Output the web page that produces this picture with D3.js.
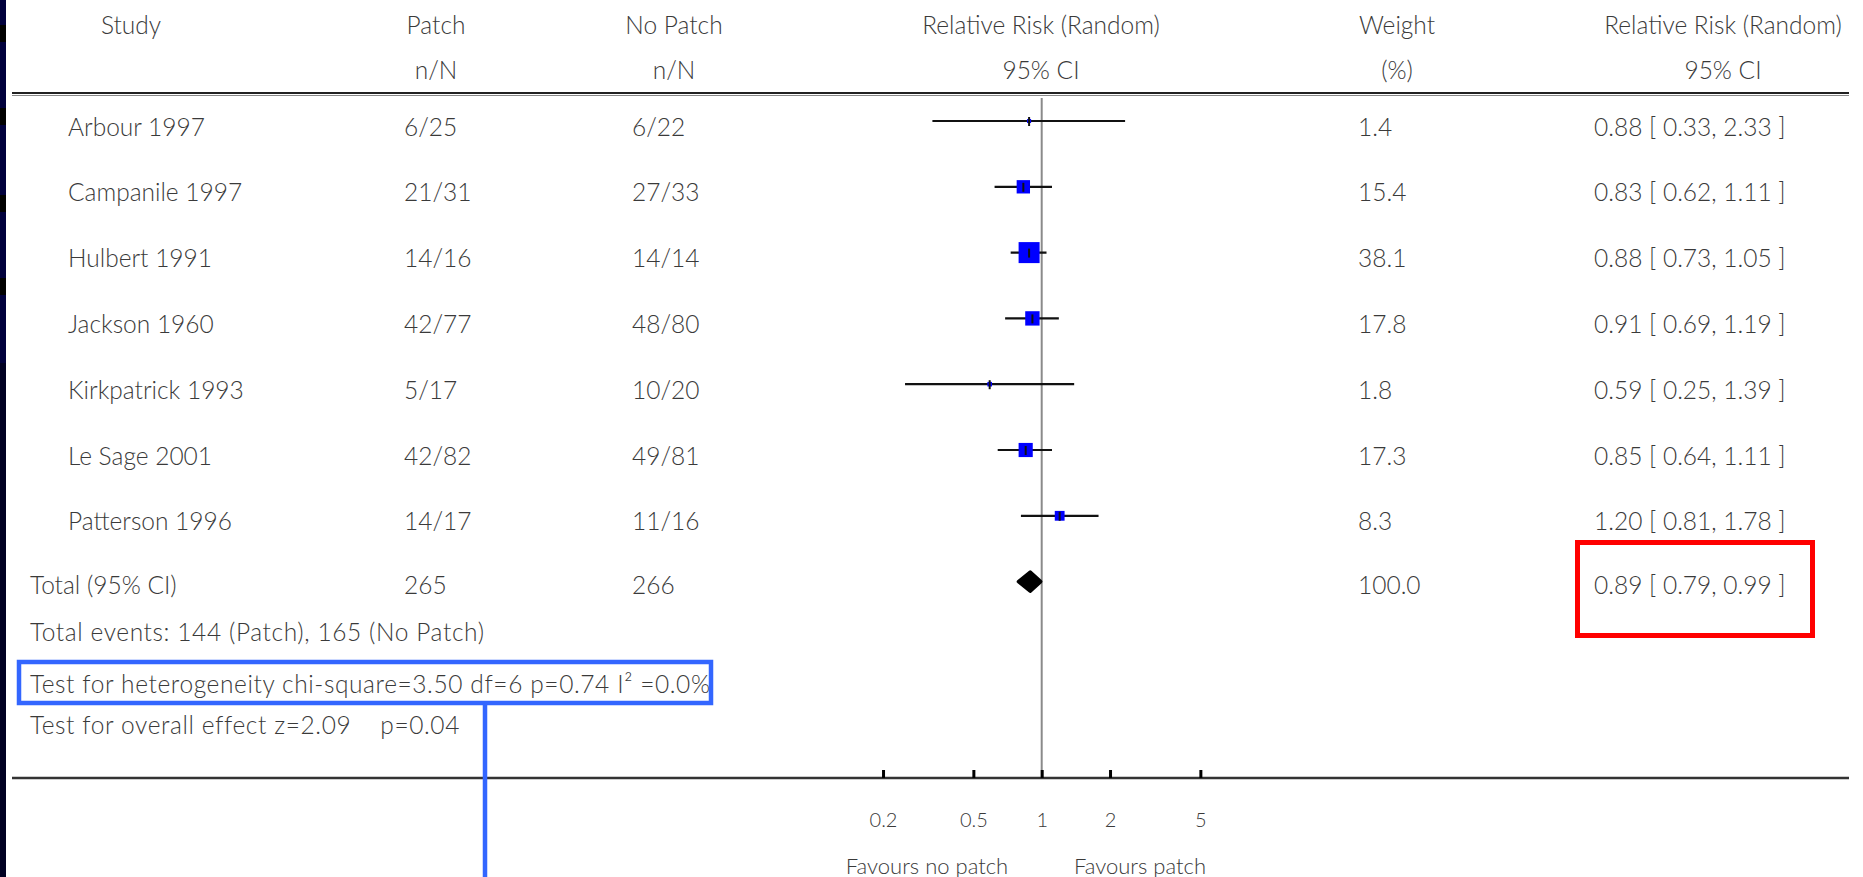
<!DOCTYPE html>
<html>
<head>
<meta charset="utf-8">
<script src="https://cdn.jsdelivr.net/npm/d3@7"></script>
<style>
  html, body { margin: 0; padding: 0; background: #ffffff; }
  svg { display: block; }
  text { font-family: "Lato", "Open Sans", sans-serif; font-weight: 300; fill: #3a3a3a; white-space: pre; }
</style>
</head>
<body>
<svg id="chart" width="1863" height="877"></svg>
<script>
// ---------------- data ----------------
const headers1 = ["Study", "Patch", "No Patch", "Relative Risk (Random)", "Weight", "Relative Risk (Random)"];
const headers2 = ["", "n/N", "n/N", "95% CI", "(%)", "95% CI"];
const studies = ["Arbour 1997", "Campanile 1997", "Hulbert 1991", "Jackson 1960", "Kirkpatrick 1993", "Le Sage 2001", "Patterson 1996"];
const patch = ["6/25", "21/31", "14/16", "42/77", "5/17", "42/82", "14/17"];
const noPatch = ["6/22", "27/33", "14/14", "48/80", "10/20", "49/81", "11/16"];
const rr = [0.88, 0.83, 0.88, 0.91, 0.59, 0.85, 1.20];
const lo = [0.33, 0.62, 0.73, 0.69, 0.25, 0.64, 0.81];
const hi = [2.33, 1.11, 1.05, 1.19, 1.39, 1.11, 1.78];
const weight = [1.4, 15.4, 38.1, 17.8, 1.8, 17.3, 8.3];
const totalLabel = "Total (95% CI)";
const totalPatch = "265";
const totalNoPatch = "266";
const totalWeight = 100.0;
const totalRR = [0.89, 0.79, 0.99]; // estimate, lower, upper
const footnotes = [
  "Total events: 144 (Patch), 165 (No Patch)",
  "Test for heterogeneity chi-square=3.50 df=6 p=0.74 I² =0.0%",
  "Test for overall effect z=2.09    p=0.04"
];
const tickValues = [0.2, 0.5, 1, 2, 5];
const tickLabels = ["0.2", "0.5", "1", "2", "5"];
const favours = ["Favours no patch", "Favours patch"];

// ---------------- layout ----------------
const svg = d3.select("#chart");
const W = 1863, H = 877;
const FS = 24.5;

svg.append("rect").attr("width", W).attr("height", H).attr("fill", "#ffffff");

// left dark strip
svg.append("rect").attr("x", 0).attr("y", 0).attr("width", 6).attr("height", H).attr("fill", "#00003c");
svg.append("rect").attr("x", 0).attr("y", 363).attr("width", 6).attr("height", H - 363).attr("fill", "#000022");
[[25, 17], [108, 17], [195, 17], [278, 17]].forEach(([y, h]) =>
  svg.append("rect").attr("x", 0).attr("y", y).attr("width", 6).attr("height", h).attr("fill", "#000000"));

// scales
const x = d3.scaleLog().domain([0.1, 10]).range([1041.7 - 227, 1041.7 + 227]);
const rowY = d3.scaleLinear().domain([0, 7]).range([121, 581.6]);
const sq = d3.scaleSqrt().domain([0, d3.max(weight)]).range([0, 21]);
const f2 = d3.format(".2f"), f1 = d3.format(".1f");

function txt(xp, yp, t, opts = {}) {
  return svg.append("text").attr("x", xp).attr("y", yp)
    .attr("text-anchor", opts.anchor || "start").attr("dominant-baseline", "central")
    .attr("font-size", opts.size || FS).attr("letter-spacing", opts.ls || 0).text(t);
}

// header
const headerCenters = [131, 436, 674, 1041, 1397, 1723];
headers1.forEach((t, i) => txt(headerCenters[i], 24, t, { anchor: "middle" }));
headers2.forEach((t, i) => txt(headerCenters[i], 69, t, { anchor: "middle" }));

// top rule
svg.append("line").attr("x1", 12).attr("x2", 1849).attr("y1", 93).attr("y2", 93).attr("stroke", "#222").attr("stroke-width", 2);
svg.append("line").attr("x1", 12).attr("x2", 1849).attr("y1", 95.5).attr("y2", 95.5).attr("stroke", "#888").attr("stroke-width", 1);

// axis baseline y
const axisY = 778;

// reference line at 1
svg.append("line").attr("x1", x(1)).attr("x2", x(1)).attr("y1", 98).attr("y2", axisY)
  .attr("stroke", "#8a8a8a").attr("stroke-width", 2);

// study rows
const colX = { study: 68, patch: 404, noPatch: 632, weight: 1358, ci: 1594 };
studies.forEach((s, i) => {
  const y = rowY(i);
  const ty = y + 5;
  txt(colX.study, ty, s);
  txt(colX.patch, ty, patch[i]);
  txt(colX.noPatch, ty, noPatch[i]);
  txt(colX.weight, ty, f1(weight[i]));
  txt(colX.ci, ty, `${f2(rr[i])} [ ${f2(lo[i])}, ${f2(hi[i])} ]`);

  // CI line
  svg.append("line").attr("x1", x(lo[i])).attr("x2", x(hi[i])).attr("y1", y).attr("y2", y)
    .attr("stroke", "#111").attr("stroke-width", 2.2);
  // square
  const s2 = Math.max(sq(weight[i]), 3.5);
  svg.append("rect").attr("x", x(rr[i]) - s2 / 2).attr("y", y - s2 / 2).attr("width", s2).attr("height", s2)
    .attr("fill", "#0000ff");
  // point tick
  svg.append("line").attr("x1", x(rr[i])).attr("x2", x(rr[i])).attr("y1", y - 4).attr("y2", y + 5)
    .attr("stroke", "#111").attr("stroke-width", 2);
});

// total row
const ty7 = rowY(7);
txt(30, ty7 + 3, totalLabel);
txt(colX.patch, ty7 + 3, totalPatch);
txt(colX.noPatch, ty7 + 3, totalNoPatch);
txt(colX.weight, ty7 + 3, f1(totalWeight));
txt(colX.ci, ty7 + 3, `${f2(totalRR[0])} [ ${f2(totalRR[1])}, ${f2(totalRR[2])} ]`);
// diamond
const dh = 9.5;
svg.append("path")
  .attr("d", `M${x(totalRR[1])},${ty7} L${x(totalRR[0])},${ty7 - dh} L${x(totalRR[2])},${ty7} L${x(totalRR[0])},${ty7 + dh} Z`)
  .attr("fill", "#000").attr("stroke", "#000").attr("stroke-width", 3.5).attr("stroke-linejoin", "round");

// footnotes
const footY = [631, 683, 724];
footnotes.forEach((t, i) => txt(30, footY[i], t, { ls: 0.6 }));

// bottom rule
svg.append("line").attr("x1", 12).attr("x2", 1849).attr("y1", axisY).attr("y2", axisY).attr("stroke", "#333").attr("stroke-width", 2.5);

// axis ticks
const axis = d3.axisBottom(x).tickValues(tickValues).tickSize(-8).tickPadding(35)
  .tickFormat((d, i) => tickLabels[i]);
const ag = svg.append("g").attr("transform", `translate(0,${axisY})`).call(axis);
ag.select(".domain").remove();
ag.selectAll(".tick line").attr("stroke", "#000").attr("stroke-width", 3);
ag.selectAll(".tick text").attr("font-size", 20).attr("font-family", "Lato, 'Open Sans', sans-serif").attr("fill", "#3a3a3a");

// favours labels
txt(927, 865, favours[0], { anchor: "middle", size: 22 });
txt(1140, 865, favours[1], { anchor: "middle", size: 22 });

// annotation boxes
svg.append("rect").attr("x", 1577.5).attr("y", 542.5).attr("width", 235).attr("height", 93)
  .attr("fill", "none").attr("stroke", "#ff0000").attr("stroke-width", 5);
svg.append("rect").attr("x", 19).attr("y", 662).attr("width", 692).attr("height", 41)
  .attr("fill", "none").attr("stroke", "#3366ff").attr("stroke-width", 4.5);
svg.append("line").attr("x1", 485).attr("x2", 485).attr("y1", 704).attr("y2", H)
  .attr("stroke", "#3366ff").attr("stroke-width", 4.5);
</script>
</body>
</html>
